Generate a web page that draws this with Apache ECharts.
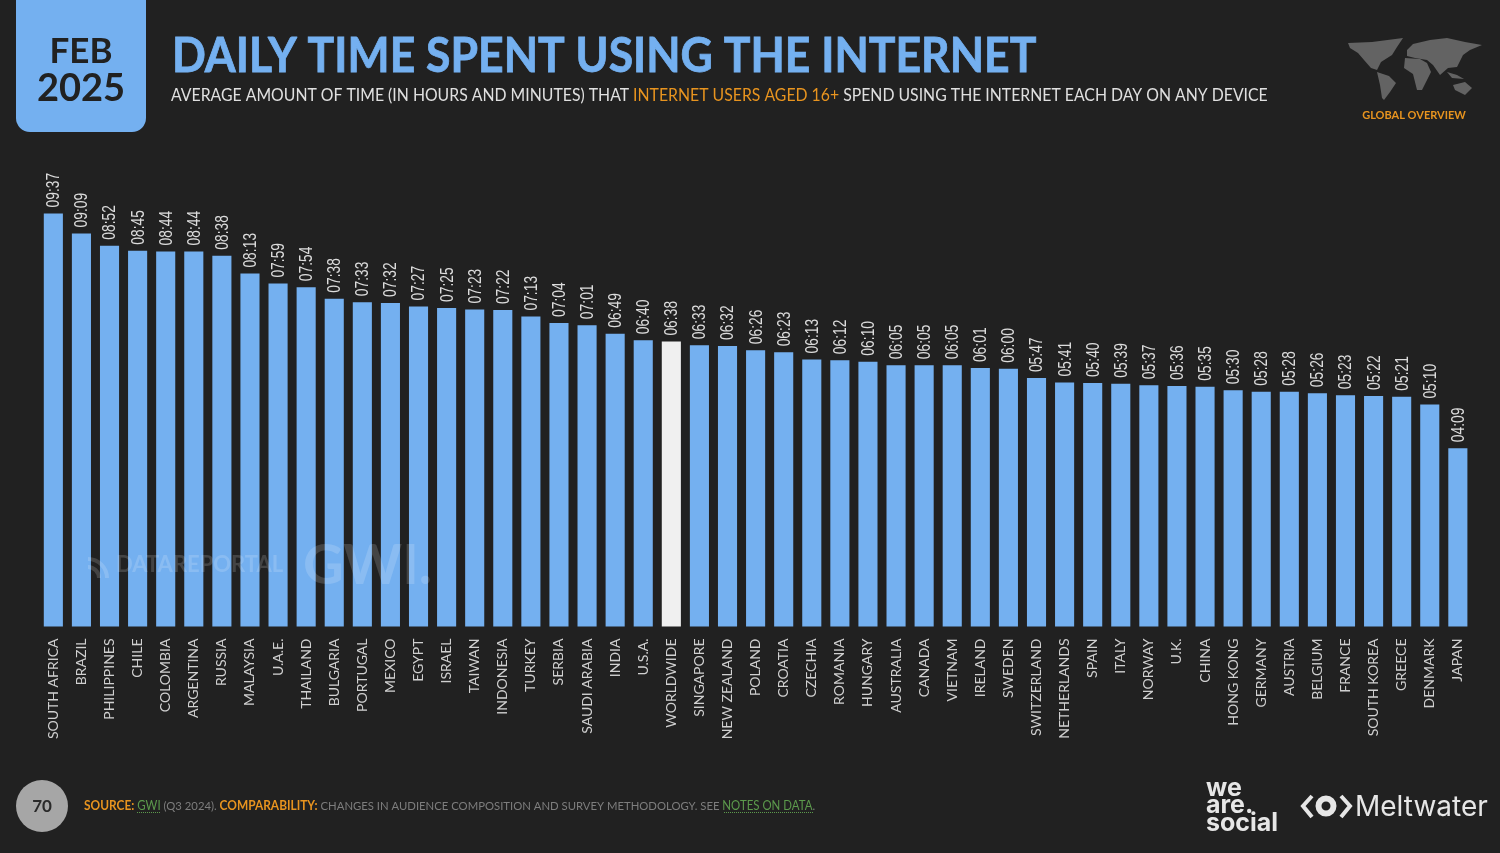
<!DOCTYPE html>
<html><head><meta charset="utf-8">
<style>html,body{margin:0;padding:0;background:#212121}#c{width:1500px;height:853px}</style>
<script src="https://cdn.jsdelivr.net/npm/echarts@6/dist/echarts.min.js"></script>
</head><body><div id="c"></div>
<script>
const categories = ["SOUTH AFRICA","BRAZIL","PHILIPPINES","CHILE","COLOMBIA","ARGENTINA","RUSSIA","MALAYSIA","U.A.E.","THAILAND","BULGARIA","PORTUGAL","MEXICO","EGYPT","ISRAEL","TAIWAN","INDONESIA","TURKEY","SERBIA","SAUDI ARABIA","INDIA","U.S.A.","WORLDWIDE","SINGAPORE","NEW ZEALAND","POLAND","CROATIA","CZECHIA","ROMANIA","HUNGARY","AUSTRALIA","CANADA","VIETNAM","IRELAND","SWEDEN","SWITZERLAND","NETHERLANDS","SPAIN","ITALY","NORWAY","U.K.","CHINA","HONG KONG","GERMANY","AUSTRIA","BELGIUM","FRANCE","SOUTH KOREA","GREECE","DENMARK","JAPAN"];
const timeLabels = ["09:37","09:09","08:52","08:45","08:44","08:44","08:38","08:13","07:59","07:54","07:38","07:33","07:32","07:27","07:25","07:23","07:22","07:13","07:04","07:01","06:49","06:40","06:38","06:33","06:32","06:26","06:23","06:13","06:12","06:10","06:05","06:05","06:05","06:01","06:00","05:47","05:41","05:40","05:39","05:37","05:36","05:35","05:30","05:28","05:28","05:26","05:23","05:22","05:21","05:10","04:09"];
const highlighted = "WORLDWIDE";
const minutes = timeLabels.map(t => { const p = t.split(":"); return +p[0]*60 + +p[1]; });

const BLUE="#74b0f0", BG="#212121", ORANGE="#e8941f", GREEN="#5c9a4c", F="Lato, 'Open Sans', sans-serif";
const land="#636363", WM='rgba(255,255,255,0.16)';
function poly(pts){return {type:'polygon',silent:true,z:5,shape:{points:pts},style:{fill:land}};}
function txt(x,y,text,size,fill,weight,extra,scaleX){return {type:'text',silent:true,z:10,x:x,y:y,scaleX:scaleX||1,style:Object.assign({text:text,fontSize:size,fill:fill,fontWeight:weight||'normal',fontFamily:F,verticalAlign:'middle',align:'left'},extra||{})};}
function dotted(x1,x2,y){return {type:'line',silent:true,z:10,shape:{x1:x1,y1:y,x2:x2,y2:y},style:{stroke:GREEN,lineWidth:1,lineDash:[1,1]}};}

const chart=echarts.init(document.getElementById('c'),null,{renderer:'canvas'});
chart.setOption({
  backgroundColor:BG,
  animation:false,
  grid:{left:39.3,width:1432.6,top:197,height:429.5,containLabel:false},
  xAxis:{type:'category',data:categories,axisLine:{show:false},axisTick:{show:false},
    axisLabel:{interval:0,rotate:90,margin:12,color:'#d0d0d0',fontSize:14,fontFamily:F}},
  yAxis:{type:'value',min:0,max:600,show:false,splitLine:{show:false}},
  series:[
    {type:'bar',barWidth:'68%',
     data:minutes.map((v,i)=>({value:v,itemStyle:{color:categories[i]===highlighted?'#f0f0f0':BLUE}}))},
    {type:'custom',silent:true,z:5,data:minutes.map((v,i)=>[i,v]),encode:{x:0,y:1},
     renderItem:function(params,api){
       const c=api.coord([api.value(0),api.value(1)]);
       return {type:'text',x:c[0]+1,y:c[1]-6,rotation:Math.PI/2,scaleX:0.77,
         style:{text:timeLabels[params.dataIndex],align:'left',verticalAlign:'middle',
           fontSize:18,fontFamily:"'Liberation Sans',sans-serif",fill:'#dcdcdc'}};
     }}
  ],
  graphic:{elements:[
    {type:'rect',silent:true,z:5,shape:{x:16,y:-20,width:130,height:152,r:14},style:{fill:BLUE}},
    txt(81,52,'FEB',35,BG,'bold',{align:'center'}),
    txt(81,89,'2025',38,BG,'bold',{align:'center'}),
    txt(172,57,'DAILY TIME SPENT USING THE INTERNET',48,BLUE,'bold',{stroke:BLUE,lineWidth:0.8},0.928),
    {type:'text',silent:true,z:10,x:171,y:96,scaleX:0.93,style:{verticalAlign:'middle',fontFamily:F,fontSize:17,fill:'#e0e0e0',
      text:'{a|AVERAGE AMOUNT OF TIME (IN HOURS AND MINUTES) THAT }{b|INTERNET USERS AGED 16+}{a| SPEND USING THE INTERNET EACH DAY ON ANY DEVICE}',
      rich:{a:{fontSize:17,fontFamily:F,fill:'#e0e0e0'},b:{fontSize:17,fontFamily:F,fill:ORANGE}}}},
    // world map (decorative silhouette)
    poly([[1348,43],[1372,42],[1403,38],[1397,47],[1392,55],[1381,62],[1377,70],[1371,68],[1364,60],[1358,53],[1350,48]]),
    poly([[1377,72],[1389,76],[1396,83],[1390,92],[1384,100],[1382,98],[1380,85]]),
    poly([[1407,50],[1413,44],[1430,40],[1447,38],[1465,42],[1482,45],[1470,50],[1463,55],[1457,67],[1448,68],[1440,75],[1433,65],[1427,60],[1415,58],[1407,56]]),
    poly([[1405,58],[1420,59],[1427,63],[1431,72],[1426,82],[1422,90],[1417,90],[1413,74],[1404,68]]),
    poly([[1453,85],[1465,82],[1472,88],[1465,95],[1455,90]]),
    poly([[1447,72],[1457,75],[1464,79],[1452,78]]),
    txt(1414,115,'GLOBAL OVERVIEW',11,ORANGE,'bold',{align:'center'}),
    // watermarks
    txt(116,565,'DATAREPORTAL',22,WM,'bold'),
    {type:'arc',silent:true,z:10,shape:{cx:88,cy:578,r:11,startAngle:-Math.PI/2,endAngle:0},style:{fill:'none',stroke:WM,lineWidth:4}},
    {type:'arc',silent:true,z:10,shape:{cx:88,cy:578,r:19,startAngle:-Math.PI/2,endAngle:0},style:{fill:'none',stroke:WM,lineWidth:4}},
    txt(303,566,'GWI.',56,WM,'bold'),
    // footer
    {type:'circle',silent:true,z:5,shape:{cx:42,cy:806,r:26},style:{fill:'#a6a6a6'}},
    txt(42,807,'70',17,'#2a2a2a','bold',{align:'center'}),
    {type:'text',silent:true,z:10,x:84,y:806,scaleX:0.916,style:{verticalAlign:'middle',fontFamily:F,fontSize:12.5,fill:'#7d7d7d',
      text:'{o|SOURCE: }{g|GWI}{n| (Q3 2024). }{o|COMPARABILITY: }{n|CHANGES IN AUDIENCE COMPOSITION AND SURVEY METHODOLOGY. SEE }{g|NOTES ON DATA}{n|.}',
      rich:{o:{fontSize:13,fontWeight:'bold',fontFamily:F,fill:ORANGE},
            g:{fontSize:12.5,fontFamily:F,fill:GREEN},
            n:{fontSize:12.35,fontFamily:F,fill:'#7d7d7d'}}}},
    dotted(137,161,812.5),
    dotted(724,814,812.5),
    {type:'text',silent:true,z:10,x:1206,y:788,style:{text:'we',fontSize:25,fontWeight:'bold',fill:'#e6e6e6',fontFamily:"Inter,Lato,sans-serif",verticalAlign:'middle'}},
    {type:'text',silent:true,z:10,x:1206,y:805,style:{text:'are.',fontSize:25,fontWeight:'bold',fill:'#e6e6e6',fontFamily:"Inter,Lato,sans-serif",verticalAlign:'middle'}},
    {type:'text',silent:true,z:10,x:1206,y:823,style:{text:'social',fontSize:25,fontWeight:'bold',fill:'#e6e6e6',fontFamily:"Inter,Lato,sans-serif",verticalAlign:'middle'}},
    {type:'polyline',silent:true,z:10,shape:{points:[[1312,796],[1303,806],[1312,817]]},style:{fill:'none',stroke:'#e6e6e6',lineWidth:4}},
    {type:'polyline',silent:true,z:10,shape:{points:[[1341,796],[1350,806],[1341,817]]},style:{fill:'none',stroke:'#e6e6e6',lineWidth:4}},
    {type:'ring',silent:true,z:10,shape:{cx:1326,cy:806,r:10.5,r0:4.5},style:{fill:'#e6e6e6'}},
    txt(1355,808,'Meltwater',28,'#e6e6e6','normal',{fontFamily:"Inter,Lato,sans-serif"})
  ]}
});
</script></body></html>
